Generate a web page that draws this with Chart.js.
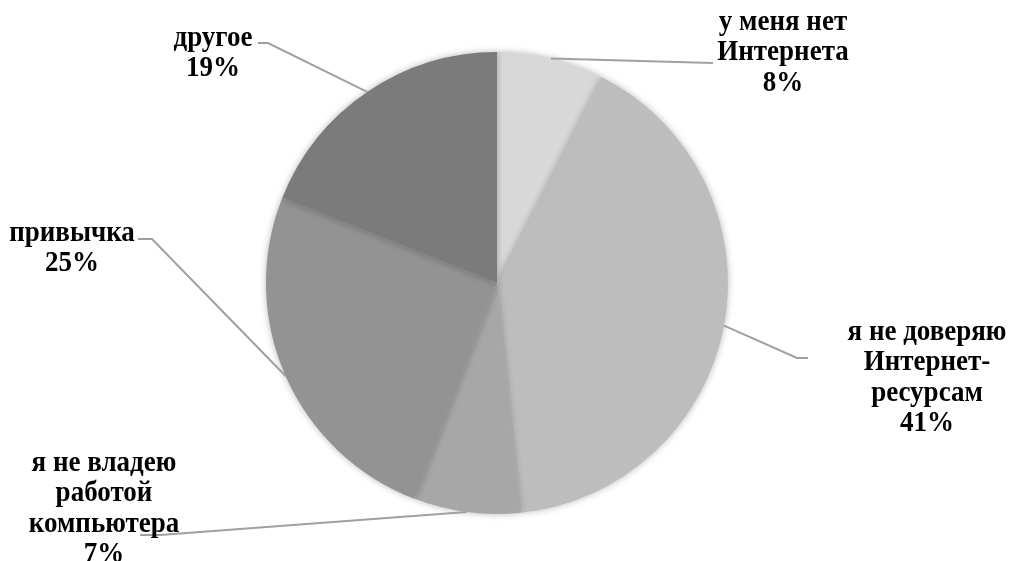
<!DOCTYPE html>
<html>
<head>
<meta charset="utf-8">
<script src="https://cdn.jsdelivr.net/npm/chart.js@4.4.1/dist/chart.umd.min.js"></script>
<style>
  html, body { margin: 0; padding: 0; background: #fff; }
  #wrap { width: 1010px; height: 561px; position: relative; }
</style>
</head>
<body>
<div id="wrap"><canvas id="pie"></canvas></div>
<script>
// chart data
const categories = [
  ["у меня нет", "Интернета"],
  ["я не доверяю", "Интернет-", "ресурсам"],
  ["я не владею", "работой", "компьютера"],
  ["привычка"],
  ["другое"]
];
const shares = [7.5, 40.9, 7.4, 25.2, 19.0];
const sliceColors = ["#d8d8d8", "#bdbdbd", "#a7a7a7", "#939393", "#7b7b7b"];

// where each data label sits and how its leader line bends (page px)
const labelCenters = [[783, 22], [927, 332], [104, 463], [72, 233], [213, 38]];
const leaderBends = [
  [[713, 63]],
  [[797, 358], [808, 358]],
  [[160, 535], [140, 535]],
  [[152, 239], [138, 239]],
  [[268, 43], [258, 43]]
];
const lineGap = 30.5;

const pieShadow = {
  id: "pieShadow",
  beforeDatasetsDraw(chart) {
    const ctx = chart.ctx;
    ctx.save();
    ctx.shadowColor = "rgba(0,0,0,0.28)";
    ctx.shadowBlur = 7;
  },
  afterDatasetsDraw(chart) {
    chart.ctx.restore();
  }
};

const outsideLabels = {
  id: "outsideLabels",
  afterDraw(chart) {
    const ctx = chart.ctx;
    const arcs = chart.getDatasetMeta(0).data;
    const total = shares.reduce((a, b) => a + b, 0);
    ctx.save();
    arcs.forEach((arc, i) => {
      const mid = (arc.startAngle + arc.endAngle) / 2;
      const sx = arc.x + Math.cos(mid) * arc.outerRadius;
      const sy = arc.y + Math.sin(mid) * arc.outerRadius;
      ctx.strokeStyle = "#a0a0a0";
      ctx.lineWidth = 2;
      ctx.beginPath();
      ctx.moveTo(sx, sy);
      leaderBends[i].forEach(p => ctx.lineTo(p[0], p[1]));
      ctx.stroke();

      const lines = categories[i].concat([Math.round(shares[i] / total * 100) + "%"]);
      ctx.fillStyle = "#000";
      ctx.font = "bold 27px 'Liberation Serif', serif";
      ctx.textAlign = "center";
      ctx.textBaseline = "middle";
      lines.forEach((t, k) => {
        ctx.save();
        ctx.translate(labelCenters[i][0], labelCenters[i][1] + k * lineGap);
        ctx.scale(1, 1.1);
        ctx.fillText(t, 0, 0);
        ctx.restore();
      });
    });
    ctx.restore();
  }
};

new Chart(document.getElementById("pie"), {
  type: "pie",
  data: {
    labels: categories,
    datasets: [{
      data: shares,
      backgroundColor: sliceColors,
      borderWidth: 0
    }]
  },
  options: {
    responsive: true,
    maintainAspectRatio: false,
    animation: false,
    layout: { padding: { top: 52, bottom: 47, left: 0, right: 16 } },
    plugins: {
      legend: { display: false },
      tooltip: { enabled: false }
    }
  },
  plugins: [pieShadow, outsideLabels]
});
</script>
</body>
</html>
